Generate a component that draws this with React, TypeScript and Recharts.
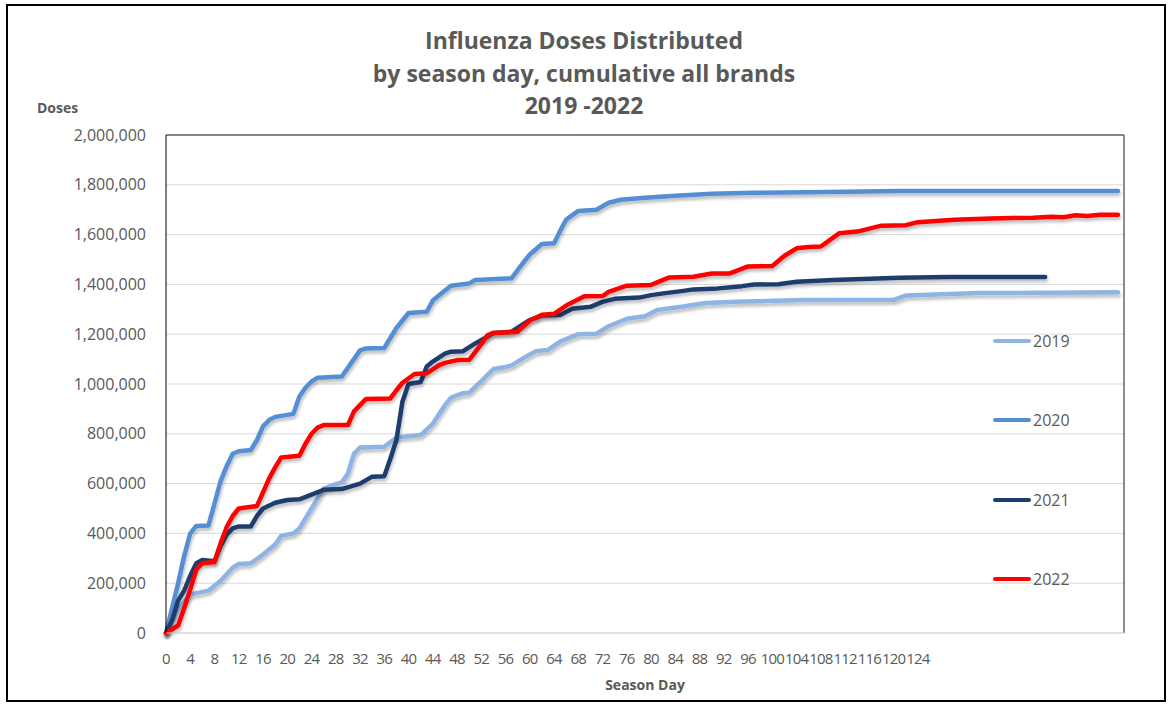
import React from 'react';
import { LineChart, Line, XAxis, YAxis, CartesianGrid, ReferenceLine } from 'recharts';

const seriesNames = ['2019', '2020', '2021', '2022'];
const seriesColors = ['#8DB4E2', '#558ED5', '#1F3E6E', '#FF0000'];

// [season day, cumulative doses in thousands]
const points2019: [number, number][] = [[0,0],[2,95],[4,155],[7,170],[9,210],[11,262],[12,277],[14,280],[16,315],[18,355],[19,390],[21,400],[22,420],[24,500],[26,580],[28,598],[29,605],[30,640],[31,720],[32,745],[36,748],[38,785],[42,795],[44,840],[46,915],[47,945],[49,963],[50,965],[52,1012],[54,1060],[56,1068],[57,1075],[59,1105],[61,1132],[63,1137],[65,1170],[67,1190],[68,1200],[71,1202],[73,1232],[76,1262],[79,1272],[81,1297],[85,1310],[89,1325],[94,1330],[105,1337],[120,1338],[122,1355],[134,1365],[157,1368]];
const points2020: [number, number][] = [[0,0],[1,100],[2,200],[3,310],[4,400],[5,430],[7,432],[8,520],[9,610],[10,670],[11,720],[12,730],[14,735],[15,775],[16,830],[17,855],[18,868],[21,880],[22,950],[23,985],[24,1010],[25,1025],[29,1030],[31,1100],[32,1135],[33,1143],[36,1145],[38,1225],[40,1285],[43,1290],[44,1335],[45,1355],[47,1395],[50,1404],[51,1418],[57,1425],[59,1490],[60,1520],[62,1562],[64,1565],[65,1615],[66,1660],[68,1695],[71,1700],[73,1728],[75,1740],[79,1748],[84,1756],[90,1764],[97,1768],[106,1770],[121,1775],[157,1775]];
const points2021: [number, number][] = [[0,0],[1,50],[2,130],[3,170],[4,230],[5,280],[6,293],[8,288],[9,350],[10,395],[11,420],[12,428],[14,428],[15,470],[16,500],[18,523],[20,534],[22,537],[24,556],[26,575],[29,578],[32,600],[34,628],[36,630],[37,700],[38,775],[39,930],[40,1000],[42,1008],[43,1070],[44,1090],[46,1122],[47,1130],[49,1132],[51,1163],[53,1190],[54,1205],[57,1210],[60,1257],[62,1275],[65,1277],[67,1302],[70,1310],[72,1330],[74,1342],[78,1347],[80,1357],[82,1364],[85,1373],[87,1380],[91,1384],[95,1393],[97,1400],[101,1401],[104,1411],[110,1418],[121,1427],[129,1430],[145,1430]];
const points2022: [number, number][] = [[0,0],[1,15],[2,30],[3,100],[4,175],[5,255],[6,280],[8,285],[9,360],[10,425],[11,470],[12,500],[15,510],[16,565],[17,620],[18,665],[19,705],[22,712],[23,760],[24,800],[25,825],[26,835],[30,835],[31,890],[33,940],[37,942],[38,975],[39,1005],[41,1040],[43,1043],[45,1075],[46,1085],[48,1096],[50,1097],[52,1160],[53,1195],[54,1205],[58,1210],[60,1255],[62,1278],[64,1282],[66,1315],[69,1352],[72,1353],[73,1370],[76,1395],[80,1398],[83,1428],[87,1431],[90,1444],[93,1444],[96,1472],[100,1474],[102,1515],[104,1545],[106,1550],[108,1552],[111,1605],[114,1612],[118,1636],[122,1638],[124,1650],[130,1660],[136,1665],[143,1668],[146,1672],[148,1670],[150,1678],[152,1675],[154,1680],[157,1680]];

const xTicks = [0,4,8,12,16,20,24,28,32,36,40,44,48,52,56,60,64,68,72,76,80,84,88,92,96,100,104,108,112,116,120,124];
const yTicks = [0,200000,400000,600000,800000,1000000,1200000,1400000,1600000,1800000,2000000];
const titleLines = ['Influenza Doses Distributed', 'by season day, cumulative all brands', '2019 -2022'];

const allPoints = [points2019, points2020, points2021, points2022];
const seriesData = allPoints.map((pts) => pts.map(([day, k]) => ({ day, doses: k * 1000 })));

const FONT = '"Open Sans", "Liberation Sans", sans-serif';
const GREY = '#595959';

const legendYs = [341, 420, 500, 579];

const fmt = (v: number) => v.toLocaleString('en-US');

export default function App() {
  return (
    <div style={{ position: 'fixed', left: 0, top: 0, width: 1174, height: 709, background: '#fff' }}>
      <svg width={0} height={0} style={{ position: 'absolute' }}>
        <defs>
          <filter id="lineShadow" x="-5%" y="-5%" width="110%" height="120%">
            <feGaussianBlur in="SourceAlpha" stdDeviation="1.5" />
            <feOffset dx="1" dy="3" result="ob" />
            <feComponentTransfer><feFuncA type="linear" slope="0.25" /></feComponentTransfer>
            <feMerge><feMergeNode /><feMergeNode in="SourceGraphic" /></feMerge>
          </filter>
        </defs>
      </svg>
      <div style={{ position: 'absolute', left: 6, top: 4, width: 1160, height: 698, border: '2px solid #000', boxSizing: 'border-box' }} />
      <div style={{ position: 'absolute', left: 0, top: 24, width: 1168, textAlign: 'center', fontFamily: FONT, fontWeight: 700, fontSize: 23, color: GREY, lineHeight: '32.5px' }}>
        {titleLines.map((t) => <div key={t}>{t}</div>)}
      </div>
      <div style={{ position: 'absolute', left: 37, top: 98, fontFamily: FONT, fontWeight: 700, fontSize: 14, color: GREY }}>Doses</div>
      <div style={{ position: 'absolute', left: 166, width: 958, top: 675, textAlign: 'center', fontFamily: FONT, fontWeight: 700, fontSize: 14, color: GREY }}>Season Day</div>
      <div style={{ position: 'absolute', left: 0, top: 0 }}>
        <LineChart width={1174} height={709} margin={{ top: 135, right: 50, bottom: 46, left: 0 }}>
          <CartesianGrid vertical={false} stroke="#d9d9d9" strokeWidth={1} />
          <XAxis
            dataKey="day"
            type="number"
            domain={[0, 158]}
            ticks={xTicks}
            interval={0}
            allowDuplicatedCategory={false}
            height={30}
            tickLine={false}
            tickSize={0}
            tickMargin={20}
            axisLine={{ stroke: '#d9d9d9' }}
            tick={{ fontFamily: FONT, fontSize: 15, fill: GREY, letterSpacing: -0.8 }}
          />
          <YAxis
            type="number"
            domain={[0, 2000000]}
            ticks={yTicks}
            interval={0}
            width={166}
            tickLine={false}
            tickSize={0}
            tickMargin={20}
            axisLine={{ stroke: '#000' }}
            tickFormatter={fmt}
            tick={{ fontFamily: FONT, fontSize: 16, fill: GREY }}
          />
          <ReferenceLine y={2000000} stroke="#222" strokeWidth={1} />
          <ReferenceLine x={158} stroke="#666" strokeWidth={1.5} />
          {seriesNames.map((name, i) => (
            <Line
              key={name}
              data={seriesData[i]}
              dataKey="doses"
              name={name}
              type="linear"
              stroke={seriesColors[i]}
              strokeWidth={4.5}
              strokeLinecap="round"
              strokeLinejoin="round"
              dot={false}
              activeDot={false}
              filter="url(#lineShadow)"
              isAnimationActive={false}
            />
          ))}
        </LineChart>
      </div>
      {seriesNames.map((name, i) => (
        <div key={name} style={{ position: 'absolute', left: 993, top: legendYs[i] - 11, height: 22, display: 'flex', alignItems: 'center' }}>
          <div style={{ width: 38, height: 4, borderRadius: 2, background: seriesColors[i] }} />
          <span style={{ marginLeft: 2, fontFamily: FONT, fontSize: 16, color: GREY }}>{name}</span>
        </div>
      ))}
    </div>
  );
}
